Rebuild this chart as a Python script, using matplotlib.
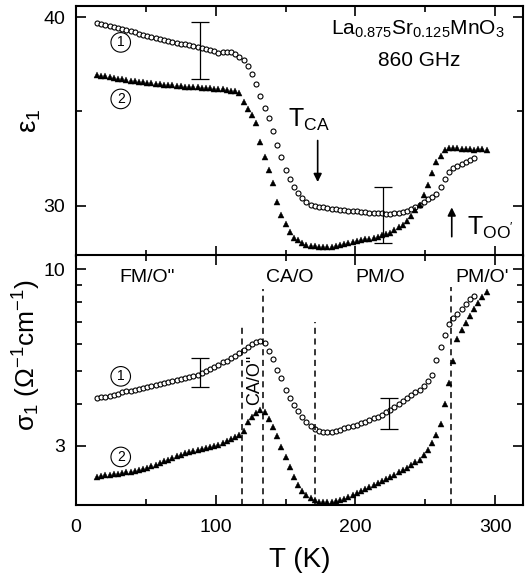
import matplotlib
matplotlib.use("Agg")
import matplotlib.pyplot as plt
from matplotlib.ticker import FixedLocator, NullFormatter, FixedFormatter, MultipleLocator

plt.rcParams['font.family'] = ['Liberation Sans', 'DejaVu Sans']
plt.rcParams['mathtext.fontset'] = 'custom'
plt.rcParams['mathtext.rm'] = 'Liberation Sans'
plt.rcParams['mathtext.it'] = 'Liberation Sans:italic'

# sample 1 (open circles)
T1 = [15, 18, 21, 24, 27, 30, 33, 36, 39, 42, 45, 48, 51, 54, 57, 60, 63, 66, 69, 72,
      75, 78, 81, 84, 87, 90, 93, 96, 99, 102, 105, 108, 111, 114, 117, 120, 123, 126, 129, 132,
      135, 138, 141, 144, 147, 150, 153, 156, 159, 162, 165, 168, 171, 174, 177, 180, 183, 186, 189, 192,
      195, 198, 201, 204, 207, 210, 213, 216, 219, 222, 225, 228, 231, 234, 237, 240, 243, 246, 249, 252,
      255, 258, 261, 264, 267, 270, 273, 276, 279, 282, 285]
eps1_s1 = [39.70, 39.65, 39.60, 39.55, 39.50, 39.40, 39.35, 39.30, 39.25, 39.20,
           39.10, 39.05, 39.00, 38.95, 38.90, 38.85, 38.80, 38.75, 38.70, 38.65,
           38.60, 38.55, 38.50, 38.45, 38.40, 38.35, 38.30, 38.25, 38.18, 38.12,
           38.15, 38.17, 38.14, 38.05, 37.87, 37.70, 37.40, 37.00, 36.45, 35.80,
           35.20, 34.65, 33.95, 33.20, 32.60, 31.90, 31.40, 31.00, 30.65, 30.40,
           30.20, 30.05, 29.98, 29.95, 29.90, 29.85, 29.80, 29.80, 29.75, 29.75,
           29.70, 29.70, 29.70, 29.65, 29.65, 29.60, 29.60, 29.60, 29.58, 29.55,
           29.55, 29.60, 29.60, 29.65, 29.70, 29.80, 29.90, 30.05, 30.20, 30.35,
           30.45, 30.60, 31.00, 31.40, 31.80, 32.00, 32.10, 32.20, 32.30, 32.40, 32.50]
sig1_s1 = [4.15, 4.18, 4.20, 4.22, 4.25, 4.28, 4.32, 4.35, 4.37, 4.40,
           4.43, 4.46, 4.49, 4.52, 4.55, 4.58, 4.61, 4.64, 4.67, 4.70,
           4.73, 4.76, 4.80, 4.84, 4.88, 4.92, 5.00, 5.08, 5.15, 5.22,
           5.30, 5.37, 5.45, 5.55, 5.66, 5.78, 5.90, 6.00, 6.08, 6.12,
           6.07, 5.72, 5.42, 5.05, 4.77, 4.40, 4.15, 3.95, 3.80, 3.65,
           3.53, 3.43, 3.36, 3.32, 3.30, 3.29, 3.30, 3.32, 3.35, 3.38,
           3.40, 3.43, 3.46, 3.50, 3.54, 3.58, 3.62, 3.66, 3.71, 3.77,
           3.83, 3.90, 4.00, 4.08, 4.16, 4.24, 4.32, 4.40, 4.52, 4.66,
           4.88, 5.40, 5.90, 6.40, 6.90, 7.17, 7.38, 7.65, 7.91, 8.20, 8.35]

# sample 2 (filled triangles)
T2 = [15, 18, 21, 24, 27, 30, 33, 36, 39, 42, 45, 48, 51, 54, 57, 60, 63, 66, 69, 72,
      75, 78, 81, 84, 87, 90, 93, 96, 99, 102, 105, 108, 111, 114, 117, 120, 123, 126, 129, 132,
      135, 138, 141, 144, 147, 150, 153, 156, 159, 162, 165, 168, 171, 174, 177, 180, 183, 186, 189, 192,
      195, 198, 201, 204, 207, 210, 213, 216, 219, 222, 225, 228, 231, 234, 237, 240, 243, 246, 249, 252,
      255, 258, 261, 264, 267, 270, 273, 276, 279, 282, 285, 288, 291, 294]
eps1_s2 = [36.95, 36.90, 36.85, 36.80, 36.75, 36.70, 36.70, 36.65, 36.60, 36.60,
           36.55, 36.55, 36.50, 36.50, 36.45, 36.45, 36.40, 36.40, 36.40, 36.35,
           36.35, 36.30, 36.30, 36.30, 36.30, 36.25, 36.25, 36.25, 36.20, 36.20,
           36.20, 36.15, 36.10, 36.10, 36.00, 35.50, 35.10, 34.80, 34.40, 33.40,
           32.60, 31.90, 31.20, 30.20, 29.50, 29.00, 28.60, 28.30, 28.15, 28.00,
           27.90, 27.85, 27.85, 27.80, 27.80, 27.80, 27.82, 27.85, 27.90, 27.95,
           28.00, 28.05, 28.10, 28.15, 28.20, 28.25, 28.30, 28.35, 28.42, 28.50,
           28.55, 28.70, 28.85, 28.95, 29.20, 29.45, 29.75, 30.05, 30.55, 31.10,
           31.75, 32.30, 32.65, 32.95, 33.05, 33.05, 33.05, 33.02, 33.00, 32.98,
           32.97, 32.98, 33.00, 32.95]
sig1_s2 = [2.43, 2.44, 2.45, 2.46, 2.47, 2.48, 2.49, 2.50, 2.51, 2.52,
           2.54, 2.56, 2.58, 2.61, 2.64, 2.67, 2.70, 2.73, 2.76, 2.79,
           2.82, 2.85, 2.87, 2.89, 2.91, 2.93, 2.95, 2.97, 2.99, 3.01,
           3.05, 3.09, 3.14, 3.19, 3.24, 3.32, 3.52, 3.65, 3.75, 3.83,
           3.77, 3.60, 3.42, 3.20, 2.98, 2.78, 2.60, 2.43, 2.30, 2.20,
           2.14, 2.10, 2.07, 2.05, 2.04, 2.04, 2.05, 2.06, 2.07, 2.09,
           2.11, 2.14, 2.18, 2.21, 2.24, 2.27, 2.30, 2.33, 2.36, 2.39,
           2.42, 2.46, 2.51, 2.55, 2.58, 2.63, 2.68, 2.73, 2.82, 2.92,
           3.05, 3.22, 3.48, 3.98, 4.60, 5.35, 6.20, 6.60, 6.96, 7.30,
           7.65, 7.95, 8.30, 8.60]

# error bars: position, lower, upper
eb_eps_T = [89, 220]
eb_eps_lo = [36.7, 28.0]
eb_eps_hi = [39.75, 31.0]
eb_sig_T = [89, 224]
eb_sig_lo = [4.49, 3.36]
eb_sig_hi = [5.48, 4.17]

# phase boundaries (T, top of dashed line)
vline_T = [119, 134, 171, 268.6]
vline_top = [6.8, 8.75, 7.0, 8.87]

phase_labels = ['FM/O"', 'CA/O', 'PM/O', "PM/O'"]
phase_T = [51, 153, 218, 291]

fig = plt.figure(figsize=(5.28, 5.84), dpi=100)
gs = fig.add_gridspec(2, 1, left=0.144, right=0.9905, top=0.99, bottom=0.135, hspace=0)
ax1 = fig.add_subplot(gs[0])
ax2 = fig.add_subplot(gs[1], sharex=ax1)

circ = dict(marker='o', ls='none', ms=3.6, mfc='white', mec='black', mew=0.8)
tri = dict(marker='^', ls='none', ms=4.2, mfc='black', mec='black', mew=0.3)
num_box = dict(boxstyle='circle,pad=0.2', fc='white', ec='black', lw=0.8)

# top panel
ax1.plot(T1, eps1_s1, **circ)
ax1.plot(T2, eps1_s2, **tri)
for t, lo, hi in zip(eb_eps_T, eb_eps_lo, eb_eps_hi):
    c = (lo + hi) / 2
    ax1.errorbar([t], [c], yerr=[[c - lo], [hi - c]], fmt='none', ecolor='black',
                 elinewidth=0.9, capsize=6.5, capthick=0.9)
ax1.set_ylim(27.35, 40.6)
ax1.yaxis.set_major_locator(FixedLocator([30, 40]))
ax1.yaxis.set_minor_locator(FixedLocator([35]))
ax1.set_ylabel('ε$_1$', fontsize=20)
ax1.yaxis.set_label_coords(-0.075, 0.54)
ax1.text(245, 39.05, r'$\mathrm{La_{0.875}Sr_{0.125}MnO_3}$', fontsize=15, ha='center', va='baseline')
ax1.text(246, 37.4, '860 GHz', fontsize=15, ha='center', va='baseline')
ax1.text(151.5, 34.2, r'$\mathrm{T_{CA}}$', fontsize=18, ha='left', va='baseline')
ax1.annotate('', xy=(173, 31.1), xytext=(173, 33.6),
             arrowprops=dict(arrowstyle='-|>', lw=1.2, color='black', mutation_scale=12))
ax1.text(280, 28.45, r"$\mathrm{T_{OO'}}$", fontsize=18, ha='left', va='baseline')
ax1.annotate('', xy=(269, 30.05), xytext=(269, 28.2),
             arrowprops=dict(arrowstyle='-|>', lw=1.2, color='black', mutation_scale=12))
for lab, y in zip(['1', '2'], [38.66, 35.66]):
    ax1.text(32, y, lab, fontsize=10, ha='center', va='center', bbox=num_box)

# bottom panel
ax2.set_yscale('log')
ax2.plot(T1, sig1_s1, **circ)
ax2.plot(T2, sig1_s2, **tri)
for t, lo, hi in zip(eb_sig_T, eb_sig_lo, eb_sig_hi):
    c = (lo * hi) ** 0.5
    ax2.errorbar([t], [c], yerr=[[c - lo], [hi - c]], fmt='none', ecolor='black',
                 elinewidth=0.9, capsize=6.5, capthick=0.9)
ax2.set_ylim(2.0, 11.0)
for t, top in zip(vline_T, vline_top):
    ax2.plot([t, t], [2.0, top], color='black', lw=1.1, ls=(0, (4, 3)))
for lab, t in zip(phase_labels, phase_T):
    ax2.text(t, 9.2, lab, fontsize=14, ha='center', va='baseline')
ax2.text(128, 4.71, 'CA/O"', fontsize=13, ha='center', va='center', rotation=90)
for lab, y in zip(['1', '2'], [4.82, 2.78]):
    ax2.text(32, y, lab, fontsize=10, ha='center', va='center', bbox=num_box)
ax2.yaxis.set_major_locator(FixedLocator([3, 10]))
ax2.yaxis.set_major_formatter(FixedFormatter(['3', '10']))
ax2.yaxis.set_minor_locator(FixedLocator([4, 5, 6, 7, 8, 9]))
ax2.yaxis.set_minor_formatter(NullFormatter())
ax2.set_ylabel('σ$_1$ (Ω$^{-1}$cm$^{-1}$)', fontsize=19)
ax2.yaxis.set_label_coords(-0.075, 0.60)
ax2.set_xlabel('T (K)', fontsize=20, labelpad=8)

ax2.set_xlim(0, 320)
ax2.xaxis.set_major_locator(MultipleLocator(100))
ax2.xaxis.set_minor_locator(MultipleLocator(50))

for ax in (ax1, ax2):
    for s in ax.spines.values():
        s.set_linewidth(1.5)
    ax.tick_params(which='both', direction='in', top=True, right=True, width=1.2)
    ax.tick_params(which='major', length=7, labelsize=14, pad=8)
    ax.tick_params(which='minor', length=4)
ax1.tick_params(labelbottom=False)
ax2.tick_params(axis='x', pad=10)

fig.savefig('out.png', dpi=100)
